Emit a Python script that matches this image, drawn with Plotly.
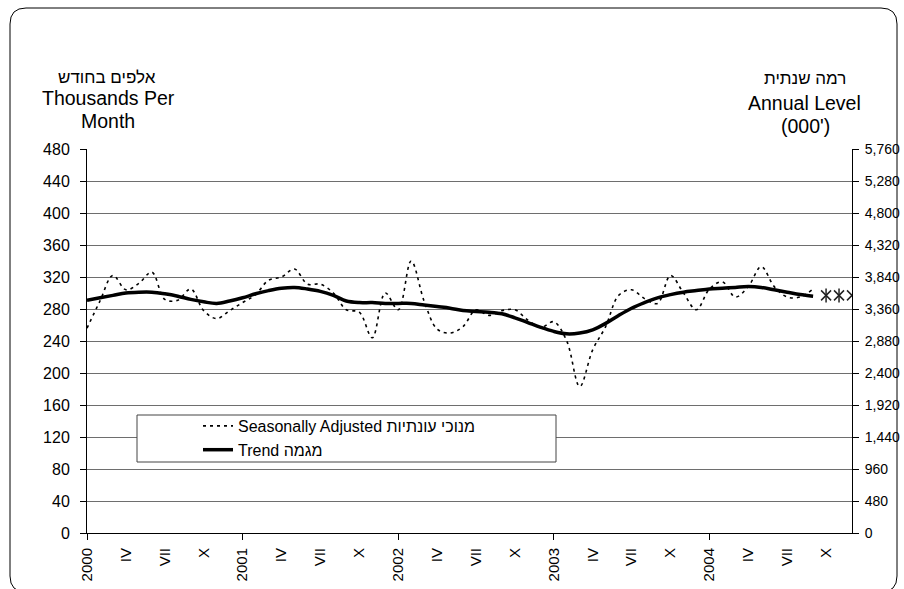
import plotly.graph_objects as go

# ---------------- data ----------------
months = list(range(57))  # Jan 2000 .. Sep 2004 (month index)
seasonally_adjusted = [
    256, 290, 322, 304, 312, 326, 292, 291, 305, 278, 268, 278,   # 2000
    288, 298, 316, 320, 330, 311, 311, 300, 279, 276, 244, 300,   # 2001
    279, 340, 290, 255, 250, 258, 279, 272, 278, 279, 266, 257,   # 2002
    264, 240, 183, 229, 258, 297, 304, 293, 287, 322, 300, 279,   # 2003
    305, 314, 295, 308, 333, 308, 295, 295, 305,                  # 2004
]
trend = [
    291, 294, 297, 300, 301, 301, 299, 296, 292, 289, 287, 290,   # 2000
    294, 299, 303, 306, 307, 305, 302, 297, 290, 288, 288, 287,   # 2001
    287, 287, 285, 283, 281, 278, 277, 276, 274, 269, 263, 257,   # 2002
    252, 249, 250, 254, 262, 272, 281, 288, 294, 298, 301, 303,   # 2003
    305, 306, 307, 308, 307, 304, 301, 298, 296,                  # 2004
]
forecast_months_star = [57, 58]
forecast_star = [297, 297]
forecast_months_x = [57, 58, 59]
forecast_x = [297, 297, 297]

tick_months = list(range(0, 58, 3))
tick_labels = []
for yr in range(2000, 2005):
    tick_labels += [str(yr), "IV", "VII", "X"]
year_months = [0, 12, 24, 36, 48]

# ---------------- geometry (page pixels) ----------------
W, H = 920, 595                     # page slightly larger than the 904x589 view
L0, R0, T0, B0 = 87, 852, 149, 533  # plot-area edges
ML, MR, MT, MB = L0, W - R0, T0, H - B0


def px(x):
    return (x - L0) / (R0 - L0)


def py(y):
    return (B0 - y) / (B0 - T0)


FONT = "Liberation Sans, Arial, sans-serif"

fig = go.Figure()
fig.add_trace(go.Scatter(
    x=months, y=seasonally_adjusted, mode="lines",
    name="Seasonally Adjusted מנוכי עונתיות",
    line=dict(color="black", width=1.6, dash="3px,4px", shape="spline"),
))
fig.add_trace(go.Scatter(
    x=months, y=trend, mode="lines", name="Trend מגמה",
    line=dict(color="black", width=3.5, shape="spline"),
))
fig.add_trace(go.Scatter(
    x=forecast_months_x, y=forecast_x, mode="markers", showlegend=False,
    xaxis="x2",
    marker=dict(symbol="x-thin-open", size=10, color="#222",
                line=dict(color="#222", width=1.5)),
))
fig.add_trace(go.Scatter(
    x=forecast_months_star, y=forecast_star, mode="markers", showlegend=False,
    xaxis="x2",
    marker=dict(symbol="line-ns-open", size=10, color="#222",
                line=dict(color="#222", width=1.5)),
))
# invisible trace to drive right axis
fig.add_trace(go.Scatter(x=[0], y=[0], yaxis="y2", mode="markers",
                         marker=dict(opacity=0), showlegend=False, hoverinfo="skip"))

# rounded outer frame
X0, X1, Y0, Y1 = px(10), px(897), py(592), py(8)
rx, ry = 16 / (R0 - L0), 16 / (B0 - T0)
frame = (f"M{X0+rx},{Y1} L{X1-rx},{Y1} Q{X1},{Y1} {X1},{Y1-ry} "
         f"L{X1},{Y0+ry} Q{X1},{Y0} {X1-rx},{Y0} L{X0+rx},{Y0} "
         f"Q{X0},{Y0} {X0},{Y0+ry} L{X0},{Y1-ry} Q{X0},{Y1} {X0+rx},{Y1} Z")
shapes = [
    dict(type="path", xref="paper", yref="paper", path=frame,
         line=dict(color="black", width=1), layer="below"),
    dict(type="rect", xref="paper", yref="paper",
         x0=px(137), x1=px(556), y0=py(462), y1=py(415),
         fillcolor="white", line=dict(color="#444", width=1), layer="above"),
]

ann = []
def title(text, x, y, size):
    ann.append(dict(text=text, x=px(x), y=py(y), xref="paper", yref="paper",
                    showarrow=False, xanchor="center", yanchor="middle",
                    font=dict(family=FONT, size=size, color="black")))

title("אלפים בחודש", 107, 77, 17)
title("Thousands Per", 108, 98, 19.5)
title("Month", 108, 121, 19.5)
title("רמה שנתית", 805, 79, 17)
title("Annual Level", 804, 103, 19.5)
title("(000')", 805, 126, 19.5)

fig.update_layout(
    width=W, height=H,
    margin=dict(l=ML, r=MR, t=MT, b=MB, pad=0),
    paper_bgcolor="white", plot_bgcolor="white",
    font=dict(family=FONT, size=15, color="black"),
    showlegend=True,
    legend=dict(x=px(198), y=py(409), xanchor="left", yanchor="top",
                bgcolor="rgba(0,0,0,0)", borderwidth=0,
                font=dict(family=FONT, size=16), tracegroupgap=0),
    xaxis=dict(range=[0, 59], tickmode="array", tickvals=tick_months,
               ticktext=tick_labels, tickangle=-90, ticks="", ticklen=0,
               showline=True, linecolor="black", linewidth=1,
               showgrid=False, zeroline=False, ticklabelstandoff=8,
               tickfont=dict(size=15)),
    xaxis2=dict(range=[0, 59], overlaying="x", anchor="y", side="bottom",
                tickmode="array", tickvals=year_months, ticks="outside",
                ticklen=6, tickcolor="black", showticklabels=False,
                showline=False, showgrid=False, zeroline=False),
    yaxis=dict(range=[0, 480], tickmode="linear", tick0=0, dtick=40,
               ticks="outside", ticklen=6, tickcolor="black",
               showline=True, linecolor="black", linewidth=1,
               showgrid=True, gridcolor="#6e6e6e", gridwidth=1,
               zeroline=False, ticklabelstandoff=7, tickfont=dict(size=16)),
    yaxis2=dict(range=[0, 5760], overlaying="y", side="right",
                tickmode="linear", tick0=0, dtick=480, tickformat=",",
                ticks="outside", ticklen=6, tickcolor="black",
                showline=True, linecolor="black", linewidth=1,
                showgrid=False, zeroline=False, ticklabelstandoff=3,
                tickfont=dict(size=14)),
    shapes=shapes, annotations=ann,
)

fig.write_html(
    "out.html",
    config={"displayModeBar": False},
    post_script="document.body.style.margin='0';document.body.style.overflow='hidden';",
)
